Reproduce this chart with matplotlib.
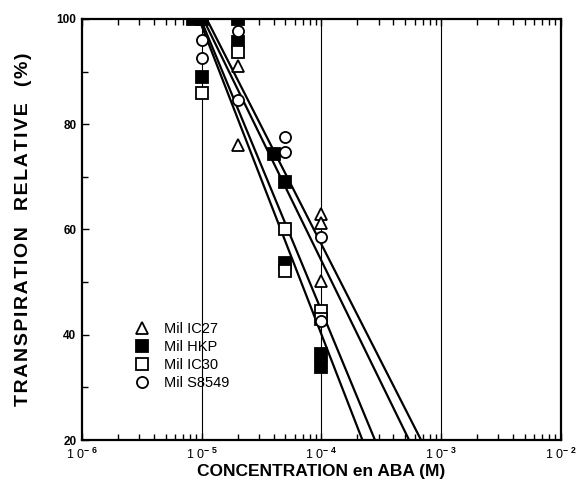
import matplotlib.pyplot as plt
from matplotlib.ticker import FixedLocator, LogLocator, NullFormatter, FuncFormatter
import numpy as np

plt.rcParams['font.family'] = ['Liberation Sans', 'DejaVu Sans']
plt.rcParams['mathtext.fontset'] = 'custom'
plt.rcParams['mathtext.rm'] = 'Liberation Sans:bold'
plt.rcParams['mathtext.bf'] = 'Liberation Sans:bold'

# points
ic27_x = [2e-5, 2e-5, 1e-4, 1e-4, 1e-4]
ic27_y = [91, 76, 63, 61.3, 50.3]

hkp_x = [8.5e-6, 1e-5, 1e-5, 2e-5, 2e-5, 4e-5, 5e-5, 5e-5, 1e-4, 1e-4]
hkp_y = [100, 100, 89, 100, 95.6, 74.3, 69, 53.7, 36.4, 33.9]

ic30_x = [1e-5, 2e-5, 5e-5, 5e-5, 1e-4, 1e-4]
ic30_y = [86, 93.7, 60, 52.2, 44.6, 43]

s8549_x = [1e-5, 1e-5, 2e-5, 2e-5, 5e-5, 5e-5, 1e-4, 1e-4]
s8549_y = [96, 92.5, 97.7, 84.6, 77.5, 74.7, 58.5, 42.7]

# regression lines: x where they cross 100 % and 20 %
fit_x_top = [9.5e-6, 9.8e-6, 1.03e-5, 1.1e-5]
fit_x_bot = [2.2e-4, 2.8e-4, 5.4e-4, 6.8e-4]
fit_y = [100, 20]

fig = plt.figure(figsize=(5.86, 4.87), dpi=100)
ax = fig.add_axes([0.140, 0.0965, 0.817, 0.8645])

for g in [1e-5, 1e-4, 1e-3]:
    ax.axvline(g, color='black', lw=0.8, zorder=1)

for xt, xb in zip(fit_x_top, fit_x_bot):
    ax.plot([xt, xb], fit_y, color='black', lw=1.6, zorder=2)

ms = 8
ax.plot(ic27_x, ic27_y, '^', ms=ms, mfc='white', mec='black', mew=1.3, ls='none', label='Mil IC27', zorder=3)
ax.plot(hkp_x, hkp_y, 's', ms=ms, mfc='black', mec='black', mew=1.3, ls='none', label='Mil HKP', zorder=3)
ax.plot(ic30_x, ic30_y, 's', ms=ms, mfc='white', mec='black', mew=1.3, ls='none', label='Mil IC30', zorder=3)
ax.plot(s8549_x, s8549_y, 'o', ms=ms, mfc='white', mec='black', mew=1.3, ls='none', label='Mil S8549', zorder=3)

ax.set_xscale('log')
ax.set_xlim(1e-6, 1e-2)
ax.set_ylim(20, 100)

ax.yaxis.set_major_locator(FixedLocator([20, 40, 60, 80, 100]))
ax.yaxis.set_minor_locator(FixedLocator([30, 50, 70, 90]))
ax.xaxis.set_major_locator(LogLocator(base=10, numticks=10))
ax.xaxis.set_minor_locator(LogLocator(base=10, subs=np.arange(2, 10), numticks=20))
ax.xaxis.set_minor_formatter(NullFormatter())
ax.xaxis.set_major_formatter(FuncFormatter(
    lambda v, p: '1 0$^{-\\ %d}$' % round(-np.log10(v))))

ax.tick_params(axis='x', which='both', direction='in', top=True, bottom=True,
               labelsize=9, pad=5)
ax.tick_params(axis='x', which='major', length=5, width=1)
ax.tick_params(axis='x', which='minor', length=4, width=1)
ax.tick_params(axis='y', which='both', direction='in', left=True, right=False,
               labelsize=8.5, width=1, pad=4)
ax.tick_params(axis='y', which='major', length=5)
ax.tick_params(axis='y', which='minor', length=4)
for lab in ax.get_yticklabels():
    lab.set_fontweight('bold')

for s in ax.spines.values():
    s.set_linewidth(1.6)

# the y title is letter-spaced in the original
sp = '\u200a'
ylab = sp.join('TRANSPIRATION') + '   ' + sp.join('RELATIVE') + '   ' + sp.join('(%)')
ax.set_xlabel('CONCENTRATION en ABA (M)', fontsize=12.5, fontweight='bold', labelpad=1)
ax.set_ylabel(ylab, fontsize=14, fontweight='bold', labelpad=18)

leg = ax.legend(loc='lower left', bbox_to_anchor=(0.083, 0.105), frameon=False,
                fontsize=10.5, handletextpad=0.5, labelspacing=0.28, borderaxespad=0)

fig.savefig('out.png', dpi=100)
